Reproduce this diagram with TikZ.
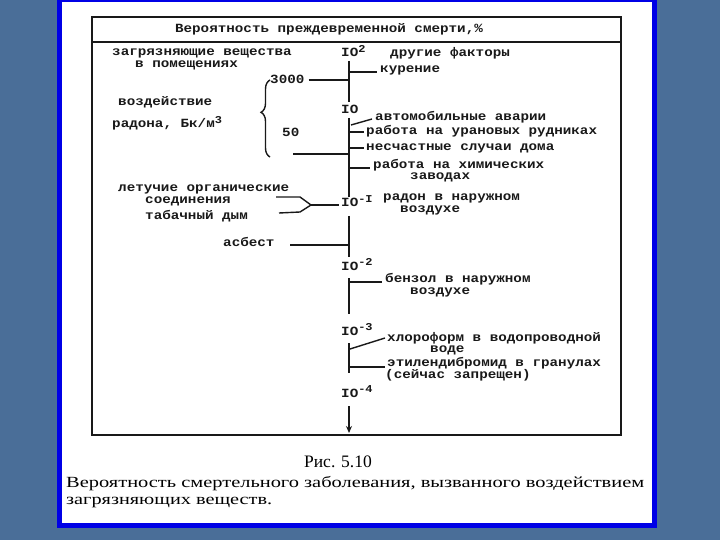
\documentclass[tikz,border=0pt]{standalone}
\usepackage{fontspec}
\usepackage{graphicx}
\setmainfont{Liberation Serif}
\newfontfamily\twfont{Liberation Mono}[FakeStretch=1.14]
\usetikzlibrary{arrows.meta,decorations.pathreplacing}
\definecolor{slidebg}{RGB}{74,110,152}
\definecolor{frameblue}{RGB}{0,0,230}
\definecolor{ink}{RGB}{25,25,25}
\newcommand{\upidx}[1]{\raisebox{4.5pt}{\fontsize{10.5}{10.5}\selectfont #1}}
\tikzset{
  tw/.style={font=\twfont\bfseries\fontsize{12.5}{12.5}\selectfont, inner sep=0pt, anchor=base west, text=ink},
  captxt/.style={font=\fontsize{15.5}{15.5}\selectfont, inner sep=0pt, anchor=base west, text=black},
  axisline/.style={line width=2.6pt, draw=ink},
  tickline/.style={line width=1.4pt, draw=ink},
  boxline/.style={line width=1.3pt, draw=ink},
}
\begin{document}
\begin{tikzpicture}[x=1pt,y=-1pt]
\fill[slidebg] (0,0) rectangle (720,540);
\useasboundingbox (0,0) rectangle (720,540);
\fill[frameblue] (57,-2) rectangle (657,528);
\fill[white] (62,2) rectangle (652,523);
% diagram box
\draw[boxline] (92,17) rectangle (621,435);
\draw[boxline] (92,42) -- (621,42);
\node[tw, anchor=base] (title) at (329,33) {Вероятность преждевременной смерти,\%};
% axis labels
\node[tw] (l2) at (341,57) {IO\upidx{2}};
\node[tw] (l1) at (341,114) {IO};
\node[tw] (lm1) at (341,207) {IO\upidx{-I}};
\node[tw] (lm2) at (341,270) {IO\upidx{-2}};
\node[tw] (lm3) at (341,335) {IO\upidx{-3}};
\node[tw] (lm4) at (341,397) {IO\upidx{-4}};
% axis coordinates
\coordinate (s1a) at (349,61);  \coordinate (s1b) at (349,102);
\coordinate (s2a) at (349,118); \coordinate (s2b) at (349,197);
\coordinate (s3a) at (349,216); \coordinate (s3b) at (349,257);
\coordinate (s4a) at (349,278); \coordinate (s4b) at (349,314);
\coordinate (s5a) at (349,343); \coordinate (s5b) at (349,373);
\coordinate (s6a) at (349,406); \coordinate (s6b) at (349,433);
\draw[axisline] (s1a) -- (s1b);
\draw[axisline] (s2a) -- (s2b);
\draw[axisline] (s3a) -- (s3b);
\draw[axisline] (s4a) -- (s4b);
\draw[axisline] (s5a) -- (s5b);
\draw[axisline, -{Stealth[length=7pt,width=6pt]}] (s6a) -- (s6b);
% right texts
\node[tw] (drug) at (390,57) {другие факторы};
\node[tw] (kur) at (380,73) {курение};
\node[tw] (avto) at (375,121) {автомобильные аварии};
\node[tw] (uran) at (366,135) {работа на урановых рудниках};
\node[tw] (nesch) at (366,151) {несчастные случаи дома};
\node[tw] (khim1) at (373,169) {работа на химических};
\node[tw] (khim2) at (410,180) {заводах};
\node[tw] (rad1) at (383,201) {радон в наружном};
\node[tw] (rad2) at (400,213) {воздухе};
\node[tw] (benz1) at (385,282) {бензол в наружном};
\node[tw] (benz2) at (410,294) {воздухе};
\node[tw] (chl1) at (387,341) {хлороформ в водопроводной};
\node[tw] (chl2) at (430,352) {воде};
\node[tw] (eth1) at (387,366) {этилендибромид в гранулах};
\node[tw] (eth2) at (385,378) {(сейчас запрещен)};
% right ticks
\coordinate (tk) at (349,72);   \coordinate (tke) at (377,72);
\coordinate (ta) at (351,125);  \coordinate (tae) at (372,119);
\coordinate (tu) at (349,132);  \coordinate (tue) at (364,132);
\coordinate (tn) at (349,148);  \coordinate (tne) at (364,148);
\coordinate (th) at (349,168);  \coordinate (the) at (370,168);
\coordinate (tb) at (349,282);  \coordinate (tbe) at (382,282);
\coordinate (tc) at (350,349);  \coordinate (tce) at (385,338);
\coordinate (te) at (349,367);  \coordinate (tee) at (385,367);
\draw[tickline] (tk) -- (tke);
\draw[tickline] (ta) -- (tae);
\draw[tickline] (tu) -- (tue);
\draw[tickline] (tn) -- (tne);
\draw[tickline] (th) -- (the);
\draw[tickline] (tb) -- (tbe);
\draw[tickline] (tc) -- (tce);
\draw[tickline] (te) -- (tee);
% left texts
\node[tw] (zag1) at (112,56) {загрязняющие вещества};
\node[tw] (zag2) at (135,68) {в помещениях};
\node[tw] (vozd) at (118,106) {воздействие};
\node[tw] (radona) at (112,128) {радона, Бк/м\upidx{3}};
\node[tw] (n3000) at (270,84) {3000};
\node[tw] (n50) at (282,137) {50};
\node[tw] (let1) at (118,192) {летучие органические};
\node[tw] (let2) at (145,204) {соединения};
\node[tw] (tab) at (145,220) {табачный дым};
\node[tw] (asb) at (223,247) {асбест};
% left connectors
\draw[tickline, decorate, decoration={brace, amplitude=9pt, aspect=0.58}] (270,157) -- (270,80);
\coordinate (a3000) at (349,80);
\draw[tickline] ([xshift=4pt]a3000 -| n3000.east) -- (a3000);
\coordinate (c50) at (293,154); \coordinate (a50) at (349,154);
\draw[tickline] (c50) -- (a50);
\coordinate (fu0) at (276,197); \coordinate (fu1) at (300,197);
\coordinate (fl0) at (279,213); \coordinate (fl1) at (300,212);
\coordinate (fm) at (311,205);
\draw[tickline] (fu0) -- (fu1) -- (fm);
\draw[tickline] (fl0) -- (fl1) -- (fm);
\draw[tickline] (fm) -- ([xshift=-2pt]fm -| lm1.west);
\coordinate (casb) at (290,245); \coordinate (aasb) at (349,245);
\draw[tickline] (casb) -- (aasb);
% caption
\node[captxt, anchor=base, font=\fontsize{17.5}{17.5}\selectfont] (fig) at (338,467) {Рис. 5.10};
\node[captxt] (cap1) at (66,487) {\resizebox{578pt}{\height}{Вероятность смертельного заболевания, вызванного воздействием}};
\node[captxt] (cap2) at (66,504) {\resizebox{206pt}{\height}{загрязняющих веществ.}};
\end{tikzpicture}
\end{document}
